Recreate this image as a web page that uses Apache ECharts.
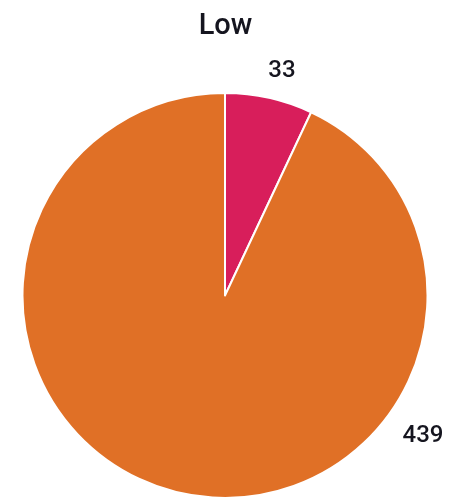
<!DOCTYPE html>
<html>
<head>
<meta charset="utf-8">
<script src="https://cdn.jsdelivr.net/npm/echarts@6/dist/echarts.min.js"></script>
<style>
  html, body { margin: 0; padding: 0; background: #ffffff; }
  #chart { width: 451px; height: 500px; }
</style>
</head>
<body>
<div id="chart"></div>
<script>
// Pie of counts in the "Low" group
const chartTitle = 'Low';
const categories = ['A', 'B'];
const values = [33, 439];
const colors = ['#d81e5b', '#e07026'];

// where each value label sits (pixel centre)
const labelSpots = [[282, 71], [423, 436]];

const chart = echarts.init(document.getElementById('chart'), null, { renderer: 'canvas' });

chart.setOption({
  animation: false,
  backgroundColor: '#ffffff',
  title: {
    text: chartTitle,
    left: 'center',
    top: 7,
    textStyle: {
      fontFamily: 'Roboto, sans-serif',
      fontSize: 29,
      fontWeight: 500,
      color: '#15151f'
    }
  },
  series: [{
    type: 'pie',
    center: [225, 295.5],
    radius: [0, 202.5],
    startAngle: 90,
    clockwise: true,
    data: categories.map((c, i) => ({
      name: c,
      value: values[i],
      itemStyle: { color: colors[i] }
    })),
    itemStyle: { borderColor: '#ffffff', borderWidth: 2 },
    label: {
      show: true,
      position: 'outside',
      formatter: '{c}',
      fontFamily: 'Roboto, sans-serif',
      fontSize: 24,
      fontWeight: 500,
      color: '#15151f'
    },
    labelLine: { show: false },
    labelLayout: (p) => ({
      x: labelSpots[p.dataIndex][0],
      y: labelSpots[p.dataIndex][1],
      align: 'center',
      verticalAlign: 'middle'
    }),
    emphasis: { disabled: true }
  }]
});
</script>
</body>
</html>
